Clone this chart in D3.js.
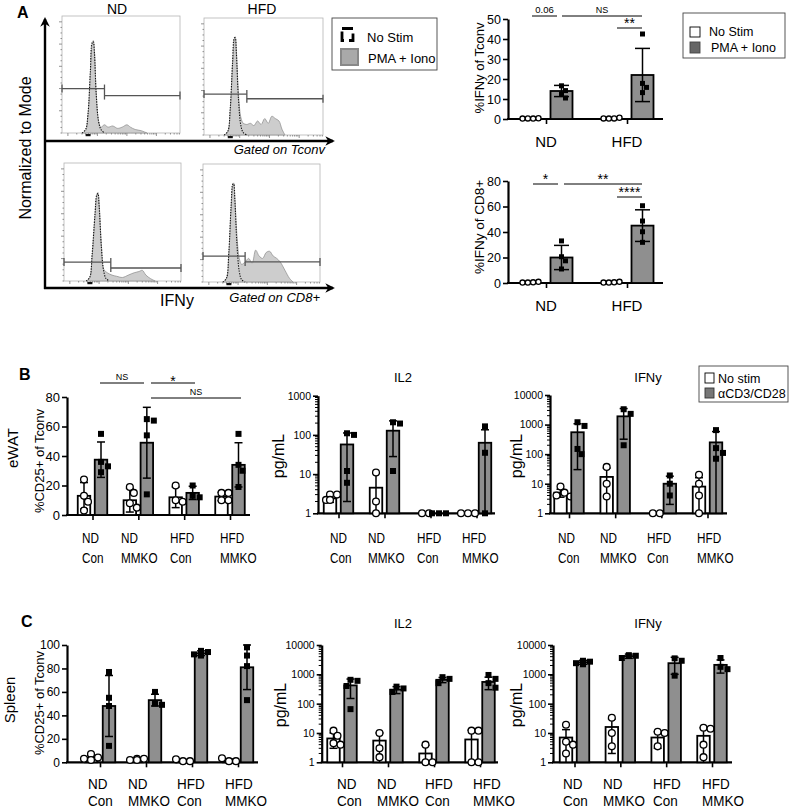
<!DOCTYPE html>
<html><head><meta charset="utf-8">
<script src="https://cdn.jsdelivr.net/npm/d3@7"></script>
<style>body{margin:0;background:#fff}svg{display:block}</style>
</head><body>
<svg id="c" width="790" height="808"></svg>
<script>
// ---------------- DATA ----------------
// Panel A histograms (x: IFNy fluorescence, 0..1 ; y: normalized to mode, 0..1)
const histNDTconvStim = [[0.17,0],[0.2,0.02],[0.22,0.15],[0.24,0.5],[0.255,0.76],[0.265,0.79],[0.275,0.7],[0.29,0.35],[0.31,0.1],[0.33,0.05],[0.36,0.07],[0.39,0.05],[0.43,0.06],[0.47,0.04],[0.51,0.05],[0.55,0.07],[0.58,0.05],[0.62,0.03],[0.67,0.02],[0.72,0]];
const histNDTconvNo   = [[0.17,0],[0.2,0.03],[0.22,0.16],[0.24,0.52],[0.255,0.77],[0.265,0.78],[0.275,0.68],[0.29,0.33],[0.31,0.1],[0.33,0.03],[0.36,0]];
const histHFDTconvStim = [[0.17,0],[0.2,0.03],[0.22,0.2],[0.24,0.6],[0.255,0.82],[0.262,0.84],[0.272,0.72],[0.29,0.35],[0.31,0.15],[0.33,0.1],[0.36,0.09],[0.39,0.1],[0.42,0.08],[0.45,0.12],[0.48,0.09],[0.51,0.14],[0.54,0.1],[0.57,0.16],[0.6,0.14],[0.63,0.12],[0.655,0.05],[0.68,0]];
const histHFDTconvNo   = [[0.17,0],[0.2,0.03],[0.22,0.22],[0.24,0.62],[0.255,0.83],[0.262,0.83],[0.272,0.7],[0.29,0.3],[0.31,0.08],[0.33,0.02],[0.36,0]];
const histNDCD8Stim = [[0.19,0],[0.22,0.03],[0.24,0.2],[0.265,0.55],[0.28,0.72],[0.29,0.75],[0.3,0.66],[0.32,0.3],[0.34,0.1],[0.37,0.07],[0.41,0.05],[0.45,0.04],[0.5,0.03],[0.55,0.05],[0.6,0.07],[0.64,0.08],[0.67,0.09],[0.7,0.05],[0.74,0.02],[0.78,0]];
const histNDCD8No   = [[0.19,0],[0.22,0.03],[0.24,0.22],[0.265,0.57],[0.28,0.73],[0.29,0.74],[0.3,0.64],[0.32,0.28],[0.34,0.08],[0.36,0.02],[0.39,0]];
const histHFDCD8Stim = [[0.17,0],[0.2,0.03],[0.22,0.22],[0.24,0.62],[0.255,0.82],[0.262,0.84],[0.272,0.72],[0.29,0.4],[0.31,0.2],[0.33,0.15],[0.36,0.17],[0.39,0.2],[0.42,0.16],[0.45,0.27],[0.48,0.22],[0.51,0.2],[0.54,0.25],[0.57,0.26],[0.6,0.22],[0.63,0.2],[0.66,0.17],[0.7,0.1],[0.74,0.03],[0.77,0]];
const histHFDCD8No   = [[0.17,0],[0.2,0.03],[0.22,0.24],[0.24,0.64],[0.255,0.83],[0.262,0.83],[0.272,0.7],[0.29,0.32],[0.31,0.09],[0.33,0.02],[0.36,0]];
// gates: [split x, left level, right level]
const gateNDTconv  = [0.36, 0.38, 0.32];
const gateHFDTconv = [0.36, 0.35, 0.31];
const gateNDCD8    = [0.40, 0.16, 0.11];
const gateHFDCD8   = [0.36, 0.22, 0.17];

// Panel A bar charts
const aGroups = ["ND", "HFD"];
const aTconvNoStimPts = [[0.2,0.3,0.2,0.4],[0.3,0.2,0.3,0.6]];
const aTconvStimMean = [14, 22];
const aTconvStimSD = [2.8, 13.3];
const aTconvStimPts = [[16.6,14.2,12.5,10.5],[42.5,17.8,15.8,13.2]];
const aTconvTicks = [0,10,20,30,40,50];
const aCD8NoStimPts = [[0.3,0.3,0.5,0.9],[0.3,0.3,0.5,0.9]];
const aCD8StimMean = [20, 45];
const aCD8StimSD = [9.5, 12.4];
const aCD8StimPts = [[33,20.6,17.4,11],[60.6,48.6,40.2,31.9]];
const aCD8Ticks = [0,20,40,60,80];

// Panels B, C
const bcLabelTop = ["ND","ND","HFD","HFD"];
const bcLabelBottom = ["Con","MMKO","Con","MMKO"];

const bCD25NoMean = [13, 10, 12, 12.5];
const bCD25NoSD   = [9, 8, 7, 2.8];
const bCD25NoPts  = [[24,13,9,3],[19,15,8,5],[20,10,9],[15,15,10,10]];
const bCD25StimMean = [37.5, 49, 15, 34];
const bCD25StimSD   = [12, 24, 4.5, 15];
const bCD25StimPts  = [[55,36,33,29],[65,64,54,14],[20,13,12],[55,34,30,19]];
const linTicks80 = [0,20,40,60,80];

const bIL2NoMean = [2.4, 4.5, 1, 1];
const bIL2NoSD   = [0.5, 6, 0, 0];
const bIL2NoPts  = [[3,3,2.2,2.2],[11,2,1],[1,1],[1,1,1]];
const bIL2StimMean = [57, 128, 1, 63];
const bIL2StimSD   = [55, 100, 0, 72];
const bIL2StimPts  = [[110,100,12,6],[210,195,12],[1,1,1],[165,35,1]];
const logTicks1000 = [1,10,100,1000];

const bIFNNoMean = [5, 17, 1, 8];
const bIFNNoSD   = [1.5, 17, 0, 8];
const bIFNNoPts  = [[8,5,4,3.7],[37,10,3.7],[1,1],[20,10,4,1]];
const bIFNStimMean = [550, 1900, 10, 250];
const bIFNStimSD   = [520, 1580, 8, 330];
const bIFNStimPts  = [[1200,900,150,100],[3300,2300,200],[19,10,4],[650,160,110,70]];
const logTicks10000 = [1,10,100,1000,10000];

const cCD25NoMean = [4, 2.5, 1.5, 1.5];
const cCD25NoSD   = [2, 0.6, 0.8, 1.3];
const cCD25NoPts  = [[7,4,3,2],[3,3,2,2],[1,1,2.5],[1,1,3.5]];
const cCD25StimMean = [48, 53, 93, 81];
const cCD25StimSD   = [26, 5, 2, 19];
const cCD25StimPts  = [[77,55,48,14],[60,50,49],[95,94,92,91],[98,91,82,53]];
const linTicks100 = [0,20,40,60,80,100];

const cIL2NoMean = [6.5, 5.5, 2, 6];
const cIL2NoSD   = [3.5, 4.5, 1.8, 6.5];
const cIL2NoPts  = [[12,8,4.5,4],[10,3,1.5],[4,1,1],[12,12,1,1]];
const cIL2StimMean = [420, 300, 650, 550];
const cIL2StimSD   = [270, 80, 130, 250];
const cIL2StimPts  = [[650,600,400,65],[380,330,250],[800,700,500],[950,700,500,350]];

const cIFNNoMean = [7, 16, 7, 8];
const cIFNNoSD   = [6, 14, 4, 7];
const cIFNNoPts  = [[19,5,4,2],[33,10,3.5],[11,10,3.5],[15,14,4,1.5]];
const cIFNStimMean = [2600, 4200, 2400, 2100];
const cIFNStimSD   = [400, 700, 1400, 1000];
const cIFNStimPts  = [[2900,2700,2400,2200],[4500,4300,3600],[3500,2900,900],[3600,1800,1500]];

// ---------------- DRAWING ----------------
const SANS = '"Liberation Sans", Arial, Helvetica, sans-serif';
const BAR_GRAY = '#8f8f8f';
const svg = d3.select('#c');

function txt(x, y, s, o = {}) {
  const t = svg.append('text').text(s)
    .attr('font-family', o.family || SANS).attr('font-size', o.size || 12)
    .attr('fill', o.fill || '#000').attr('text-anchor', o.anchor || 'start');
  if (o.weight) t.attr('font-weight', o.weight);
  if (o.style) t.attr('font-style', o.style);
  if (o.rotate) {
    t.attr('x', x).attr('y', y).attr('transform', `rotate(-90,${x},${y})`);
  } else if (o.scaleX) {
    t.attr('x', 0).attr('y', 0).attr('transform', `translate(${x},${y}) scale(${o.scaleX},1)`);
  } else {
    t.attr('x', x).attr('y', y);
  }
  return t;
}

// ----- Panel A flow histograms -----
txt(17, 18, 'A', {size: 16, weight: 'bold'});
txt(117, 14, 'ND', {size: 14, anchor: 'middle'});
txt(262, 14, 'HFD', {size: 14, anchor: 'middle'});

function histogram(box, stim, unstim, gate) {
  const [x0, y0, x1, y1] = box;
  const x = d3.scaleLinear().domain([0, 1]).range([x0, x1]);
  const y = d3.scaleLinear().domain([0, 1]).range([y1, y0]);
  const g = svg.append('g');
  g.append('rect').attr('x', x0).attr('y', y0).attr('width', x1 - x0).attr('height', y1 - y0)
    .attr('fill', 'none').attr('stroke', '#b5b5b5').attr('stroke-width', 0.8);
  d3.range(0, 1.0001, 0.05).forEach((v, i) => {
    const major = i % 4 === 0 && i > 0;
    g.append('line').attr('x1', x0).attr('x2', x0 - (major ? 3 : 1.5)).attr('y1', y(v * 0.95)).attr('y2', y(v * 0.95))
      .attr('stroke', '#777').attr('stroke-width', 0.8);
  });
  [0.05, 0.3, 0.55, 0.8].forEach(d0 => {
    d3.range(1, 10).forEach(k => {
      const v = d0 + 0.25 * Math.log10(k);
      if (v > 1) return;
      g.append('line').attr('x1', x(v)).attr('x2', x(v)).attr('y1', y1).attr('y2', y1 + (k === 1 ? 3 : 1.5))
        .attr('stroke', '#777').attr('stroke-width', 0.8);
    });
  });
  g.append('rect').attr('x', x(0.2)).attr('y', y1 + 1).attr('width', 5).attr('height', 2.2).attr('fill', '#111');
  const area = d3.area().x(d => x(d[0])).y0(y(0)).y1(d => y(d[1])).curve(d3.curveCatmullRom);
  const line = d3.line().x(d => x(d[0])).y(d => y(d[1])).curve(d3.curveCatmullRom);
  g.append('path').attr('d', area(stim)).attr('fill', '#cdcdcd').attr('stroke', '#8a8a8a').attr('stroke-width', 0.7);
  g.append('path').attr('d', line(unstim)).attr('fill', 'none').attr('stroke', '#111')
    .attr('stroke-width', 1.1).attr('stroke-dasharray', '1.3,1.3');
  const [sx, l1, l2] = gate;
  const gs = {stroke: '#555', w: 1.3};
  [[0, sx, l1], [sx, 1, l2]].forEach(([a, b, lv]) => {
    g.append('line').attr('x1', x(a)).attr('x2', x(b)).attr('y1', y(lv)).attr('y2', y(lv))
      .attr('stroke', gs.stroke).attr('stroke-width', gs.w);
  });
  g.append('line').attr('x1', x(sx)).attr('x2', x(sx)).attr('y1', y(l1) - 4).attr('y2', y(l2) + 4)
    .attr('stroke', gs.stroke).attr('stroke-width', gs.w);
  g.append('line').attr('x1', x(1)).attr('x2', x(1)).attr('y1', y(l2) - 4).attr('y2', y(l2) + 4)
    .attr('stroke', gs.stroke).attr('stroke-width', gs.w);
  g.append('line').attr('x1', x(0)).attr('x2', x(0)).attr('y1', y(l1) - 4).attr('y2', y(l1) + 4)
    .attr('stroke', gs.stroke).attr('stroke-width', gs.w);
}
histogram([62, 16, 180, 133], histNDTconvStim, histNDTconvNo, gateNDTconv);
histogram([204, 18, 323, 135], histHFDTconvStim, histHFDTconvNo, gateHFDTconv);
histogram([64, 163, 181, 281], histNDCD8Stim, histNDCD8No, gateNDCD8);
histogram([203, 164, 320, 282], histHFDCD8Stim, histHFDCD8No, gateHFDCD8);

const defs = svg.append('defs');
defs.append('marker').attr('id', 'arr').attr('viewBox', '0 0 10 10').attr('refX', 8).attr('refY', 5)
  .attr('markerWidth', 4).attr('markerHeight', 4).attr('orient', 'auto')
  .append('path').attr('d', 'M0,0 L10,5 L0,10 L3,5 z').attr('fill', '#000');
svg.append('line').attr('x1', 45).attr('y1', 289).attr('x2', 45).attr('y2', 19).attr('stroke', '#000').attr('stroke-width', 2.4).attr('marker-end', 'url(#arr)');
svg.append('line').attr('x1', 44).attr('y1', 141).attr('x2', 333).attr('y2', 141).attr('stroke', '#000').attr('stroke-width', 2.4).attr('marker-end', 'url(#arr)');
svg.append('line').attr('x1', 44).attr('y1', 288).attr('x2', 333).attr('y2', 288).attr('stroke', '#000').attr('stroke-width', 2.4).attr('marker-end', 'url(#arr)');
txt(31, 148, 'Normalized to Mode', {size: 16, anchor: 'middle', rotate: true});
txt(325, 154, 'Gated on Tconv', {size: 13, anchor: 'end', style: 'italic'});
txt(320, 302, 'Gated on CD8+', {size: 13, anchor: 'end', style: 'italic'});
txt(177, 306, 'IFNy', {size: 16, anchor: 'middle'});

svg.append('rect').attr('x', 332).attr('y', 18).attr('width', 105).attr('height', 52).attr('fill', '#fff').attr('stroke', '#444').attr('stroke-width', 0.9);
svg.append('rect').attr('x', 342).attr('y', 28.5).attr('width', 11).attr('height', 12).attr('fill', 'none')
  .attr('stroke', '#000').attr('stroke-width', 2.8).attr('stroke-dasharray', '11,5');
txt(367, 42, 'No Stim', {size: 13});
svg.append('rect').attr('x', 341).attr('y', 49).attr('width', 17).attr('height', 16).attr('fill', '#a9a9a9').attr('stroke', '#888').attr('stroke-width', 2);
txt(368, 63, 'PMA + Iono', {size: 13});

// ----- generic bar panel -----
function placePts(vals, yS, cx, minD, cand) {
  const placed = [];
  vals.forEach(v => {
    const p = {v, py: yS(v)};
    for (const dx of cand) {
      if (placed.every(q => Math.hypot(q.px - (cx + dx), q.py - p.py) >= minD)) { p.px = cx + dx; break; }
    }
    if (p.px == null) p.px = cx;
    placed.push(p);
  });
  return placed;
}

function barPanel(c) {
  const g = svg.append('g');
  const n = c.stimMean.length;
  const y = (c.log ? d3.scaleLog() : d3.scaleLinear()).domain(c.domain).range([c.yB, c.yT]);
  const x = d3.scalePoint().domain(d3.range(n)).range(c.centers);
  const base = c.domain[0];
  const ax = d3.axisLeft(y).tickValues(c.ticks).tickFormat(d => String(d)).tickSize(5).tickSizeOuter(0).tickPadding(2);
  const ag = g.append('g').attr('transform', `translate(${c.ax},0)`).call(ax);
  ag.select('.domain').attr('stroke-width', 2.2);
  ag.selectAll('.tick line').attr('stroke-width', 1.6);
  ag.selectAll('.tick text').attr('font-family', SANS).attr('font-size', c.tickSize || 12).attr('fill', '#000');
  if (c.log) {
    const minor = [];
    for (let d = c.domain[0]; d < c.domain[1]; d *= 10) for (let k = 2; k < 10; k++) minor.push(d * k);
    ag.selectAll('.minor').data(minor).join('line').attr('class', 'minor')
      .attr('x1', 0).attr('x2', -3).attr('y1', d => y(d)).attr('y2', d => y(d)).attr('stroke', '#000').attr('stroke-width', 1);
  }
  g.append('line').attr('x1', c.ax - 1).attr('x2', c.axEnd).attr('y1', c.yB).attr('y2', c.yB).attr('stroke', '#000').attr('stroke-width', 2.2);
  const xa = d3.axisBottom(x).tickSize(5).tickFormat('').tickSizeOuter(0);
  const xg = g.append('g').attr('transform', `translate(0,${c.yB})`).call(xa);
  xg.select('.domain').remove();
  xg.selectAll('.tick line').attr('stroke-width', 1.6);

  const series = [
    {mean: c.noMean, sd: c.noSD, pts: c.noPts, dx: -c.off, fill: '#fff', open: true},
    {mean: c.stimMean, sd: c.stimSD, pts: c.stimPts, dx: c.off, fill: BAR_GRAY, open: false}
  ];
  series.forEach(s => {
    if (s.mean) {
      s.mean.forEach((m, i) => {
        const cx = x(i) + s.dx;
        if (y(m) < y(base) - 0.5) {
          g.append('rect').attr('x', cx - c.bw / 2).attr('y', y(m)).attr('width', c.bw).attr('height', y(base) - y(m))
            .attr('fill', s.fill).attr('stroke', '#000').attr('stroke-width', 1.8);
        }
      });
      s.mean.forEach((m, i) => {
        const sd = s.sd[i];
        if (!sd) return;
        const cx = x(i) + s.dx;
        const hi = m + sd, loRaw = m - sd;
        const lo = Math.max(loRaw, base);
        g.append('line').attr('x1', cx).attr('x2', cx).attr('y1', y(lo)).attr('y2', y(hi)).attr('stroke', '#000').attr('stroke-width', 1.5);
        g.append('line').attr('x1', cx - c.cap / 2).attr('x2', cx + c.cap / 2).attr('y1', y(hi)).attr('y2', y(hi)).attr('stroke', '#000').attr('stroke-width', 1.5);
        if (loRaw > base) g.append('line').attr('x1', cx - c.cap / 2).attr('x2', cx + c.cap / 2).attr('y1', y(lo)).attr('y2', y(lo)).attr('stroke', '#000').attr('stroke-width', 1.5);
      });
    }
    s.pts.forEach((arr, i) => {
      const cx = x(i) + s.dx;
      let placed;
      if (c.spreadOpen && s.open) {
        placed = arr.map((v, k) => ({v, py: y(v), px: cx + (k - (arr.length - 1) / 2) * c.spreadOpen}));
      } else {
        placed = placePts(arr, y, cx, c.minD, c.cand);
      }
      placed.forEach(p => {
        if (s.open) {
          g.append('circle').attr('cx', p.px).attr('cy', p.py).attr('r', c.r).attr('fill', '#fff').attr('stroke', '#000').attr('stroke-width', 1.3);
        } else {
          g.append('rect').attr('x', p.px - c.sq / 2).attr('y', p.py - c.sq / 2).attr('width', c.sq).attr('height', c.sq).attr('fill', '#000');
        }
      });
    });
  });
  if (c.groupNames) {
    c.groupNames.forEach((s, i) => txt(x(i), c.labelY, s, {size: 15, anchor: 'middle'}));
  }
  if (c.labelStarts) {
    c.labelStarts.forEach((lx, i) => {
      txt(lx, c.labelY, bcLabelTop[i], {size: c.labelSize, scaleX: c.labelScale});
      txt(lx, c.labelY + c.labelGap, bcLabelBottom[i], {size: c.labelSize, scaleX: c.labelScale});
    });
  }
  return {x, y};
}

function sig(x1, x2, yy, label, size, lift) {
  svg.append('line').attr('x1', x1).attr('x2', x2).attr('y1', yy).attr('y2', yy).attr('stroke', '#000').attr('stroke-width', 1);
  txt((x1 + x2) / 2, yy - lift, label, {size, anchor: 'middle'});
}

// ----- Panel A bar charts -----
const aCommon = {ax: 508, axEnd: 663, centers: [546, 627], off: 15.5, bw: 22, cap: 15, r: 2.6, sq: 5, minD: 5,
  cand: [0, 4, -4, 8, -8], spreadOpen: 5.3, groupNames: aGroups, tickSize: 12.5};
barPanel(Object.assign({}, aCommon, {yB: 119, yT: 19, domain: [0, 50], ticks: aTconvTicks,
  noPts: aTconvNoStimPts, stimMean: aTconvStimMean, stimSD: aTconvStimSD, stimPts: aTconvStimPts, labelY: 147}));
barPanel(Object.assign({}, aCommon, {yB: 283, yT: 181, domain: [0, 80], ticks: aCD8Ticks,
  noPts: aCD8NoStimPts, stimMean: aCD8StimMean, stimSD: aCD8StimSD, stimPts: aCD8StimPts, labelY: 311}));
txt(484, 68, '%IFNy of Tconv', {size: 13, anchor: 'middle', rotate: true});
txt(484, 227, '%IFNy of CD8+', {size: 13.5, anchor: 'middle', rotate: true});
sig(532, 557, 16, '0.06', 9.5, 3);
sig(562, 642, 16, 'NS', 9, 3);
sig(617, 642, 28, '**', 14, 0);
sig(533, 558, 184, '*', 14, 0);
sig(564, 642, 184, '**', 14, 0);
sig(617, 642, 197, '****', 14, 0);

svg.append('rect').attr('x', 683).attr('y', 13).attr('width', 102).attr('height', 45).attr('fill', '#fff').attr('stroke', '#444').attr('stroke-width', 0.9);
svg.append('rect').attr('x', 690).attr('y', 27).attr('width', 10).attr('height', 10).attr('fill', '#fff').attr('stroke', '#000').attr('stroke-width', 0.9);
txt(709, 36, 'No Stim', {size: 12.5});
svg.append('rect').attr('x', 690).attr('y', 42).attr('width', 10).attr('height', 11).attr('fill', '#666').attr('stroke', '#444').attr('stroke-width', 0.9);
txt(711, 52, 'PMA + Iono', {size: 12.5});

// ----- Panel B -----
txt(19, 380, 'B', {size: 16, weight: 'bold'});
txt(18, 448, 'eWAT', {size: 15, anchor: 'middle', rotate: true});
const bcCommon = {off: 8.5, bw: 12.5, cap: 8, r: 3.4, sq: 6, minD: 6.5, cand: [0, 4, -4, 7, -7, 10, -10],
  labelSize: 14, labelGap: 20, labelScale: 0.84};
barPanel(Object.assign({}, bcCommon, {ax: 67, axEnd: 250, centers: [92.5, 230], yB: 515, yT: 397, domain: [0, 80], ticks: linTicks80, tickSize: 13,
  noMean: bCD25NoMean, noSD: bCD25NoSD, noPts: bCD25NoPts, stimMean: bCD25StimMean, stimSD: bCD25StimSD, stimPts: bCD25StimPts,
  labelStarts: [82, 121, 170, 220], labelY: 543}));
txt(44, 461, '%CD25+ of Tconv', {size: 13, anchor: 'middle', rotate: true});
sig(100, 144, 383, 'NS', 9, 3);
sig(151, 195, 383, '*', 14, -3);
sig(151, 241, 398, 'NS', 9, 3);

barPanel(Object.assign({}, bcCommon, {ax: 318, axEnd: 495, centers: [338.5, 476.5], yB: 513.3, yT: 395.7, domain: [1, 1000], log: true, ticks: logTicks1000, tickSize: 10.5,
  noMean: bIL2NoMean, noSD: bIL2NoSD, noPts: bIL2NoPts, stimMean: bIL2StimMean, stimSD: bIL2StimSD, stimPts: bIL2StimPts,
  labelStarts: [330, 368, 417, 462], labelY: 543}));
txt(403, 382, 'IL2', {size: 13, anchor: 'middle'});
txt(284, 456, 'pg/mL', {size: 16, anchor: 'middle', rotate: true});

barPanel(Object.assign({}, bcCommon, {ax: 550, axEnd: 727, centers: [569, 707.5], yB: 513.3, yT: 395, domain: [1, 10000], log: true, ticks: logTicks10000, tickSize: 10.5,
  noMean: bIFNNoMean, noSD: bIFNNoSD, noPts: bIFNNoPts, stimMean: bIFNStimMean, stimSD: bIFNStimSD, stimPts: bIFNStimPts,
  labelStarts: [558, 600, 647, 697], labelY: 543}));
txt(648, 382, 'IFNy', {size: 13, anchor: 'middle'});
txt(522, 456, 'pg/mL', {size: 16, anchor: 'middle', rotate: true});

svg.append('rect').attr('x', 699).attr('y', 366).attr('width', 89).attr('height', 36).attr('fill', '#fff').attr('stroke', '#444').attr('stroke-width', 0.9);
svg.append('rect').attr('x', 705).attr('y', 373).attr('width', 9).attr('height', 10).attr('fill', '#fff').attr('stroke', '#000').attr('stroke-width', 0.9);
txt(718, 383, 'No stim', {size: 12.5});
svg.append('rect').attr('x', 705).attr('y', 388).attr('width', 9).attr('height', 10).attr('fill', '#777').attr('stroke', '#333').attr('stroke-width', 0.9);
txt(718, 398, 'αCD3/CD28', {size: 12.5});

// ----- Panel C -----
txt(21, 627, 'C', {size: 16, weight: 'bold'});
txt(15, 700, 'Spleen', {size: 15, anchor: 'middle', rotate: true});
const cLab = {labelY: 789, labelSize: 15, labelGap: 17, labelScale: 0.9};
barPanel(Object.assign({}, bcCommon, cLab, {ax: 67, axEnd: 258, centers: [100, 238], off: 9, yB: 762.3, yT: 645, domain: [0, 100], ticks: linTicks100, tickSize: 12,
  noMean: cCD25NoMean, noSD: cCD25NoSD, noPts: cCD25NoPts, stimMean: cCD25StimMean, stimSD: cCD25StimSD, stimPts: cCD25StimPts,
  labelStarts: [88, 128, 177, 225]}));
txt(44, 703, '%CD25+ of Tconv', {size: 13, anchor: 'middle', rotate: true});

barPanel(Object.assign({}, bcCommon, cLab, {ax: 321.7, axEnd: 498, centers: [342, 480], yB: 762.3, yT: 645, domain: [1, 10000], log: true, ticks: logTicks10000, tickSize: 10.5,
  noMean: cIL2NoMean, noSD: cIL2NoSD, noPts: cIL2NoPts, stimMean: cIL2StimMean, stimSD: cIL2StimSD, stimPts: cIL2StimPts,
  labelStarts: [337, 377, 425, 473]}));
txt(403, 628, 'IL2', {size: 13, anchor: 'middle'});
txt(286, 705, 'pg/mL', {size: 16, anchor: 'middle', rotate: true});

barPanel(Object.assign({}, bcCommon, cLab, {ax: 553, axEnd: 732, centers: [574.5, 712], yB: 762.3, yT: 645, domain: [1, 10000], log: true, ticks: logTicks10000, tickSize: 10.5,
  noMean: cIFNNoMean, noSD: cIFNNoSD, noPts: cIFNNoPts, stimMean: cIFNStimMean, stimSD: cIFNStimSD, stimPts: cIFNStimPts,
  labelStarts: [563, 603, 653, 702]}));
txt(648, 628, 'IFNy', {size: 13, anchor: 'middle'});
txt(522, 705, 'pg/mL', {size: 16, anchor: 'middle', rotate: true});
</script>
</body></html>
